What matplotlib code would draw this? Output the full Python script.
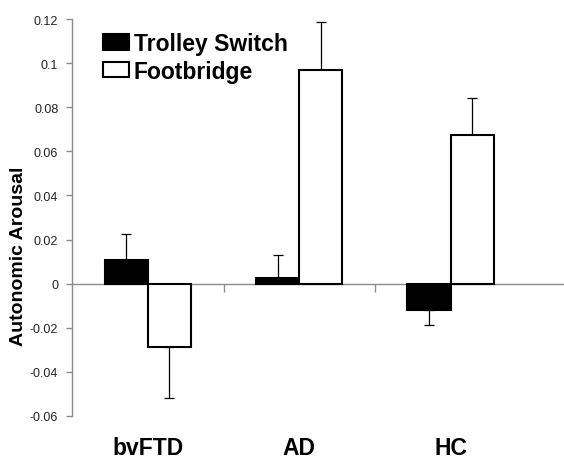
import matplotlib
matplotlib.use("Agg")
import matplotlib.pyplot as plt
import matplotlib.transforms as mtransforms
import numpy as np

plt.rcParams['font.family'] = ['Liberation Sans', 'DejaVu Sans']

groups = ['bvFTD', 'AD', 'HC']
series_names = ['Trolley Switch', 'Footbridge']
trolley = [0.0106, 0.0027, -0.0121]
trolley_err = [0.0117, 0.0102, 0.0065]
footbridge = [-0.0285, 0.0967, 0.0674]
footbridge_err = [0.0232, 0.0219, 0.0167]
yticks = [-0.06, -0.04, -0.02, 0, 0.02, 0.04, 0.06, 0.08, 0.1, 0.12]
ytick_labels = ['-0.06', '-0.04', '-0.02', '0', '0.02', '0.04', '0.06', '0.08', '0.1', '0.12']


def one_sided(vals, errs):
    # error bar only on the side away from zero
    lower = [e if v < 0 else 0 for v, e in zip(vals, errs)]
    upper = [e if v >= 0 else 0 for v, e in zip(vals, errs)]
    return [lower, upper]


fig = plt.figure(figsize=(5.64, 4.60), dpi=100)
ax = fig.add_axes([0.128, 0.0935, 0.872, 0.863])

x = np.arange(len(groups))
w = 0.286
gray = '#8c8c8c'

ax.bar(x - w / 2, trolley, w, color='black', edgecolor='black', linewidth=1.5,
       label=series_names[0], zorder=3)
ax.bar(x + w / 2, footbridge, w, color='white', edgecolor='black', linewidth=1.5,
       label=series_names[1], zorder=3)
ax.errorbar(x - w / 2, trolley, yerr=one_sided(trolley, trolley_err), fmt='none',
            ecolor='black', elinewidth=0.9, capsize=3.5, capthick=0.9, zorder=2)
ax.errorbar(x + w / 2, footbridge, yerr=one_sided(footbridge, footbridge_err), fmt='none',
            ecolor='black', elinewidth=0.9, capsize=3.5, capthick=0.9, zorder=2)

ax.set_xlim(-0.5, 2.75)
ax.set_ylim(-0.06, 0.12)
ax.set_yticks(yticks)
ax.set_yticklabels(ytick_labels, fontsize=9, color='#222222')

ax.spines['top'].set_visible(False)
ax.spines['right'].set_visible(False)
ax.spines['bottom'].set_position(('data', 0))
for side in ['left', 'bottom']:
    ax.spines[side].set_color(gray)
    ax.spines[side].set_linewidth(1.0)
    ax.spines[side].set_zorder(1)

ax.tick_params(axis='y', direction='out', length=4, color=gray, width=1.0, pad=6)
ax.set_xticks([0.5, 1.5])
ax.set_xticklabels([])
ax.tick_params(axis='x', direction='out', length=6, color=gray, width=1.0)

trans = mtransforms.blended_transform_factory(ax.transData, ax.transData)
for xi, name in zip(x, groups):
    ax.text(xi, -0.0745, name, ha='center', va='center', fontsize=16.5,
            fontweight='bold', transform=trans, clip_on=False)

fig.text(0.032, 0.443, 'Autonomic Arousal', rotation=90, ha='center', va='center',
         fontsize=14, fontweight='bold')

leg = ax.legend(loc='upper left', bbox_to_anchor=(0.182, 0.928), bbox_transform=fig.transFigure,
                frameon=False, prop={'weight': 'bold', 'size': 16.5},
                handlelength=1.15, handleheight=0.65, handletextpad=0.2,
                labelspacing=0.2, borderaxespad=0, borderpad=0)

fig.savefig('out.png', dpi=100)
